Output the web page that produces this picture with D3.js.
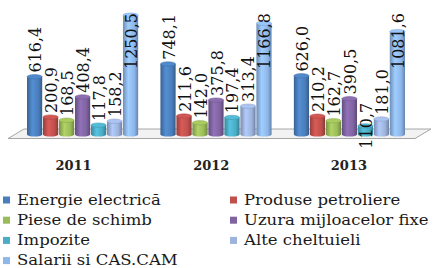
<!DOCTYPE html>
<html>
<head>
<meta charset="utf-8">
<script src="https://cdn.jsdelivr.net/npm/d3@7"></script>
<style>
  body { margin: 0; background: #fff; }
</style>
</head>
<body>
<div id="main"></div>
<script>
// categorii si serii
const years = ['2011', '2012', '2013'];
const series = ['Energie electrică', 'Produse petroliere', 'Piese de schimb',
                'Uzura mijloacelor fixe', 'Impozite', 'Alte cheltuieli', 'Salarii si CAS.CAM'];
const v2011 = [616.4, 200.9, 168.5, 408.4, 117.8, 158.2, 1250.5];
const v2012 = [748.1, 211.6, 142.0, 375.8, 197.4, 313.4, 1166.8];
const v2013 = [626.0, 210.2, 162.7, 390.5, 110.7, 181.0, 1081.6];
const values = [v2011, v2012, v2013];

const colors = ['#4a7ebb', '#c0504d', '#9bbb59', '#8064a2', '#4bacc6', '#9db3dd', '#8db6ea'];
const font = 'DejaVu Serif';

const W = 440, H = 268;

const svg = d3.select('#main').append('svg')
    .attr('width', W)
    .attr('height', H);

const defs = svg.append('defs');
colors.forEach(function(c, i) {
    const g = defs.append('linearGradient')
        .attr('id', 'cyl' + i)
        .attr('x1', '0%').attr('x2', '100%');
    const base = d3.color(c);
    g.append('stop').attr('offset', '0%').attr('stop-color', base.darker(0.7));
    g.append('stop').attr('offset', '35%').attr('stop-color', base.brighter(0.35));
    g.append('stop').attr('offset', '75%').attr('stop-color', base);
    g.append('stop').attr('offset', '100%').attr('stop-color', base.darker(0.9));
});

// scari
const x0 = d3.scaleBand()
    .domain(years)
    .range([15, 417])
    .paddingInner(0.167)
    .paddingOuter(0.09);

const x1 = d3.scaleBand()
    .domain(series)
    .range([0, x0.bandwidth()])
    .paddingInner(0.05);

const y = d3.scaleLinear()
    .domain([0, 1300])
    .range([134.4, 134.4 - 1300 * 0.0971]);

// podeaua 3D
svg.append('path')
    .attr('d', 'M8,138.5 L24,129 L431,129 L415,138.5 Z')
    .attr('fill', '#f2f2f2')
    .attr('stroke', '#a6a6a6')
    .attr('stroke-width', 1);

const rx = x1.bandwidth() / 2, ry = 2.2;

const groups = svg.selectAll('g.year')
    .data(years)
    .enter()
    .append('g')
    .attr('class', 'year')
    .attr('transform', d => 'translate(' + x0(d) + ',0)');

const bars = groups.selectAll('g.bar')
    .data((yr, yi) => series.map((s, si) => ({ year: yr, s: s, si: si, v: values[yi][si] })))
    .enter()
    .append('g')
    .attr('class', 'bar');

bars.append('ellipse')
    .attr('cx', d => x1(d.s) + rx)
    .attr('cy', y(0))
    .attr('rx', rx)
    .attr('ry', ry)
    .attr('fill', d => 'url(#cyl' + d.si + ')');

bars.append('rect')
    .attr('x', d => x1(d.s))
    .attr('y', d => y(d.v) + ry)
    .attr('width', x1.bandwidth())
    .attr('height', d => y(0) - y(d.v) - ry)
    .attr('fill', d => 'url(#cyl' + d.si + ')');

bars.append('ellipse')
    .attr('cx', d => x1(d.s) + rx)
    .attr('cy', d => y(d.v) + ry)
    .attr('rx', rx)
    .attr('ry', ry)
    .attr('fill', d => d3.color(colors[d.si]).brighter(0.25))
    .attr('stroke', d => d3.color(colors[d.si]).darker(0.4))
    .attr('stroke-width', 0.5);

// etichete valori
const fmt = v => v.toFixed(1).replace('.', ',');
const nudge = { '2013|Impozite': 27 };

groups.each(function(yr) {
    const g = d3.select(this);
    g.selectAll('g.bar').each(function(d) {
        const cx = x1(d.s) + rx + 1;
        const t = g.append('text')
            .text(fmt(d.v))
            .attr('font-family', font)
            .attr('font-size', 16)
            .attr('fill', '#111')
            .attr('dominant-baseline', 'central')
            .attr('text-anchor', 'start');
        const len = t.node().getComputedTextLength();
        let bottom = y(d.v) - 2;
        if (bottom - len < 8) bottom = 13 + len;
        bottom += nudge[d.year + '|' + d.s] || 0;
        t.attr('transform', 'translate(' + cx + ',' + bottom + ') rotate(-90)');
    });
});

// etichete ani
svg.selectAll('text.yr')
    .data(years)
    .enter()
    .append('text')
    .attr('class', 'yr')
    .text(d => d)
    .attr('x', d => {
        const cx = x0(d) + x0.bandwidth() / 2;
        return cx + (cx - 365) * 0.032;
    })
    .attr('y', 170)
    .attr('text-anchor', 'middle')
    .attr('font-family', font)
    .attr('font-size', 13)
    .attr('font-weight', 'bold')
    .attr('fill', '#222');

// legenda
const legend = svg.selectAll('g.leg')
    .data(series)
    .enter()
    .append('g')
    .attr('class', 'leg')
    .attr('transform', (d, i) => 'translate(' + (i % 2 === 0 ? 3 : 230) + ',' + (204.5 + Math.floor(i / 2) * 20.2) + ')');

legend.append('rect')
    .attr('x', 0)
    .attr('y', -8)
    .attr('width', 7)
    .attr('height', 7)
    .attr('fill', (d, i) => colors[i]);

legend.append('text')
    .text(d => d)
    .attr('transform', 'translate(14,0) scale(1.1,1)')
    .attr('font-family', font)
    .attr('font-size', 15)
    .attr('fill', '#1a1a1a');
</script>
</body>
</html>
